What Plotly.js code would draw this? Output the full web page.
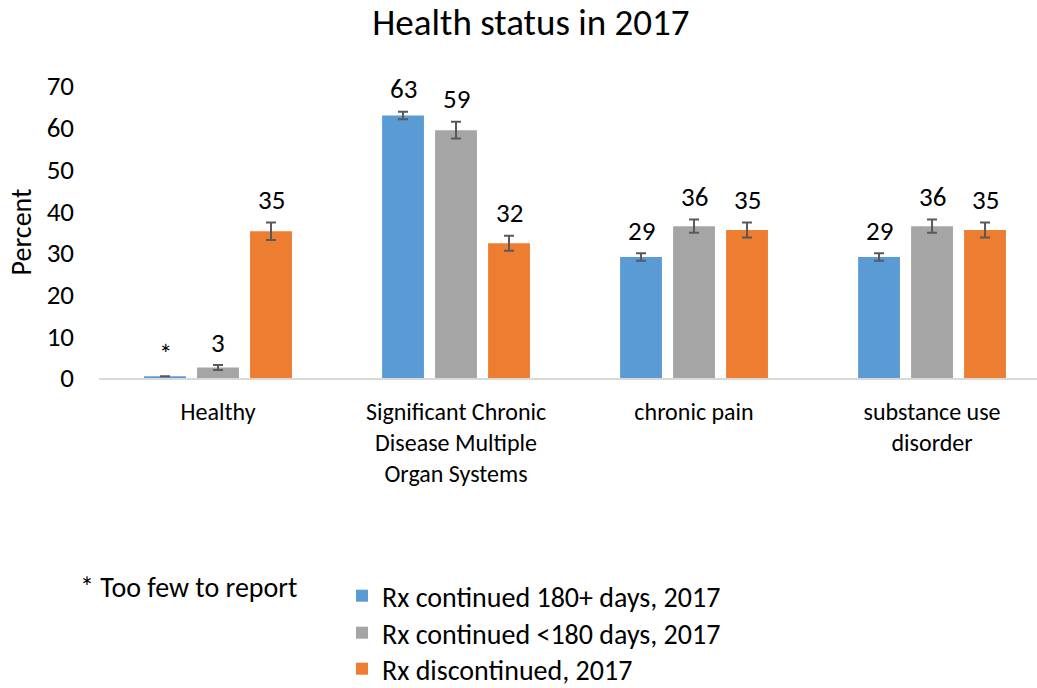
<!DOCTYPE html>
<html>
<head>
<meta charset="utf-8">
<script src="https://cdn.plot.ly/plotly-3.0.1.min.js"></script>
<style>html,body{margin:0;padding:0;background:#fff;}#chart{width:1037px;height:688px;}</style>
</head>
<body>
<div id="chart"></div>
<script>
const categories = ["Healthy", "Significant Chronic<br>Disease Multiple<br>Organ Systems", "chronic pain", "substance use<br>disorder"];
const seriesNames = ["Rx continued 180+ days, 2017", "Rx continued <180 days, 2017", "Rx discontinued, 2017"];
const continued180 = [0.4, 62.9, 29.0, 29.0];
const continuedLess180 = [2.5, 59.4, 36.4, 36.4];
const discontinued = [35.2, 32.3, 35.5, 35.5];
const err180 = [0, 0.9, 0.9, 0.9];
const errLess180 = [0.6, 2.0, 1.6, 1.6];
const errDisc = [2.1, 1.8, 1.8, 1.8];
const labels180 = ["*", "63", "29", "29"];
const labelsLess180 = ["3", "59", "36", "36"];
const labelsDisc = ["35", "32", "35", "35"];
const yTicks = [0, 10, 20, 30, 40, 50, 60, 70];

const FONT = "Calibri, Carlito, Lato, sans-serif";
const colors = ["#5B9BD5", "#A5A5A5", "#ED7D31"];
const values = [continued180, continuedLess180, discontinued];
const errs = [err180, errLess180, errDisc];
const labs = [labels180, labelsLess180, labelsDisc];
const legends = ["legend", "legend2", "legend3"];
const xIdx = categories.map((_, i) => i);

const traces = values.map((v, s) => ({
  type: "bar",
  name: seriesNames[s],
  x: xIdx,
  y: v,
  marker: {color: colors[s]},
  error_y: {type: "data", array: errs[s], visible: true, color: "#595959", thickness: 2, width: 5},
  legend: legends[s],
  hoverinfo: "none"
}));

const offsets = [-53, 0, 53];
const annotations = [];
values.forEach((v, s) => {
  v.forEach((val, i) => {
    annotations.push({
      x: i, y: val + errs[s][i], xref: "x", yref: "y",
      text: labs[s][i], showarrow: false, xshift: offsets[s], yshift: 23,
      yanchor: "middle", font: {family: FONT, size: 27, color: "#000"}
    });
  });
});
annotations.push({
  xref: "paper", yref: "paper", x: (78 - 99) / 938, y: (378 - 587) / 292,
  xanchor: "left", yanchor: "middle", text: "* Too few to report", showarrow: false,
  font: {family: FONT, size: 28, color: "#000"}
});

function legendAt(ypix) {
  return {
    x: (342 - 99) / 938, xanchor: "left",
    y: (378 - ypix) / 292, yanchor: "middle",
    font: {family: FONT, size: 28, color: "#000"},
    bgcolor: "rgba(0,0,0,0)", itemclick: false, itemdoubleclick: false
  };
}

const layout = {
  width: 1037, height: 688,
  margin: {l: 99, r: 0, t: 86, b: 310, autoexpand: false},
  paper_bgcolor: "#fff", plot_bgcolor: "#fff",
  title: {text: "Health status in 2017", x: 0.512, xref: "container", xanchor: "center", y: 0.968, yanchor: "middle",
          font: {family: FONT, size: 37, color: "#000"}},
  barmode: "group", bargap: 0.332, bargroupgap: 0.21,
  showlegend: true,
  legend: legendAt(596),
  legend2: legendAt(633),
  legend3: legendAt(669),
  xaxis: {
    type: "linear", range: [-0.5, 3.441], tickmode: "array", tickvals: xIdx, ticktext: categories,
    showline: true, linecolor: "#D9D9D9", linewidth: 2, showgrid: false, zeroline: false, ticks: "",
    ticklabelstandoff: 11, automargin: false,
    tickfont: {family: FONT, size: 24, color: "#000"}, fixedrange: true
  },
  yaxis: {
    range: [0, 70], tickmode: "array", tickvals: yTicks, showgrid: false, zeroline: false, showline: false,
    ticks: "", ticklabelstandoff: 24, automargin: false,
    tickfont: {family: FONT, size: 27, color: "#000"},
    title: {text: "Percent", standoff: 6, font: {family: FONT, size: 28, color: "#000"}}, fixedrange: true
  },
  annotations: annotations
};

Plotly.newPlot("chart", traces, layout, {displayModeBar: false, staticPlot: true});
</script>
</body>
</html>
